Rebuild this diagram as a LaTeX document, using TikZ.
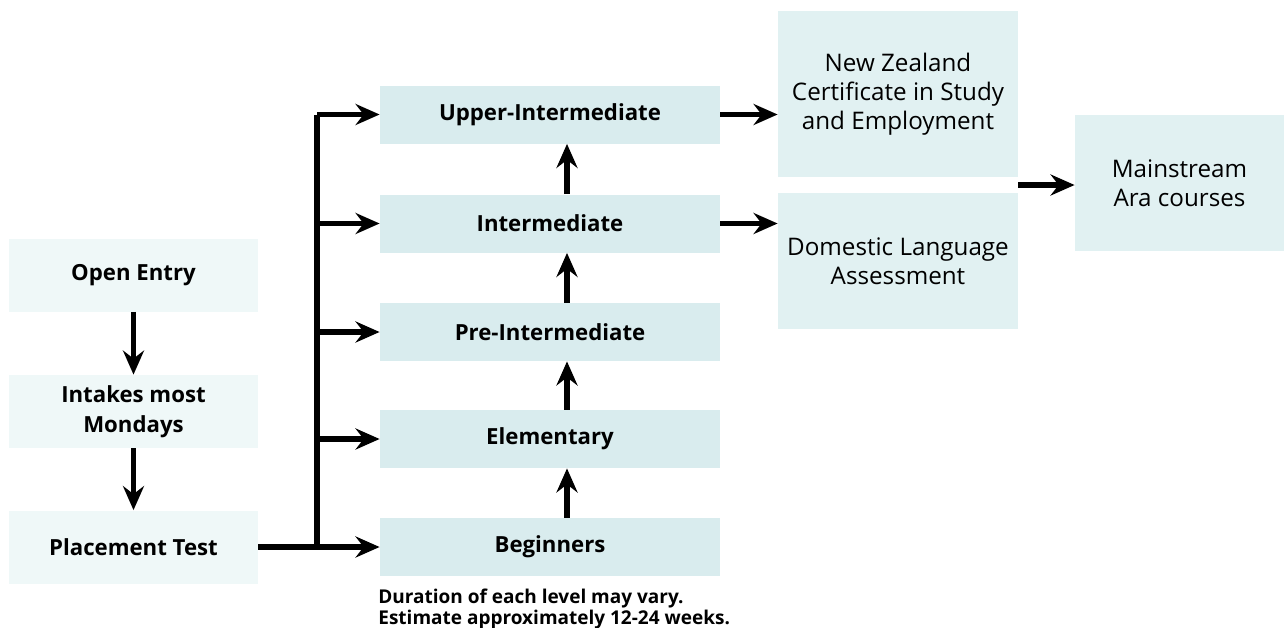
\documentclass[tikz,border=0pt]{standalone}
\usepackage{fontspec}
\setmainfont{Open Sans}
\usetikzlibrary{arrows.meta,calc}

\definecolor{entryfill}{HTML}{EFF8F8}
\definecolor{levelfill}{HTML}{D9ECEE}
\definecolor{exitfill}{HTML}{E1F1F2}

\tikzset{
  box/.style={inner sep=2pt, align=center, font=\fontsize{11.1}{15}\selectfont\bfseries},
  entrybox/.style={box, fill=entryfill, minimum width=124.5pt, minimum height=36.5pt},
  levelbox/.style={box, fill=levelfill, minimum width=170pt, minimum height=29pt},
  exitbox/.style={box, fill=exitfill, font=\fontsize{12.1}{14.5}\selectfont, minimum width=120pt},
  arr/.style={-{Stealth[length=12pt, width=10.5pt, inset=4pt]}, line width=2.6pt},
}

\begin{document}
\begin{tikzpicture}[x=0.5pt, y=-0.5pt]
\useasboundingbox (0,0) rectangle (1284,627);

% --- entry column ---
\node[entrybox] (open)   at (133.5,275)   {Open Entry};
\node[entrybox] (intake) at (133.5,411.5) {Intakes most\\Mondays};
\node[entrybox] (place)  at (133.5,547)   {Placement Test};

% --- levels ---
\node[levelbox] (upper) at (550,114.5) {Upper-Intermediate};
\node[levelbox] (inter) at (550,223.5) {Intermediate};
\node[levelbox] (pre)   at (550,332)   {Pre-Intermediate};
\node[levelbox] (elem)  at (550,439)   {Elementary};
\node[levelbox] (begin) at (550,547)   {Beginners};
\node[anchor=north west, align=left, inner sep=0pt, font=\fontsize{9.5}{8.8}\selectfont\bfseries]
  (note) at (378,589) {Duration of each level may vary.\\Estimate approximately 12-24 weeks.};

% --- exits ---
\node[exitbox, minimum height=83pt] (nz)  at (898,94)  {New Zealand\\Certificate in Study\\and Employment};
\node[exitbox, minimum height=68pt] (dom) at (898,261) {Domestic Language\\Assessment};
\node[exitbox, minimum width=104.5pt, minimum height=68pt] (main) at (1179.5,183) {Mainstream\\Ara courses};

% --- arrows ---
\draw[arr] (open) -- (intake);
\draw[arr] (intake) -- (place);
\coordinate (bus) at (317,0);
\draw[arr] (place.east) -- (begin.west);
\draw[line width=2.6pt] (bus |- begin.west) -- (bus |- upper.west);
\foreach \lvl in {upper,inter,pre,elem} {
  \draw[arr] (bus |- \lvl.west) -- (\lvl.west);
}
\foreach \lo/\hi in {begin/elem,elem/pre,pre/inter,inter/upper} {
  \draw[arr] ([xshift=8.5pt]\lo.north) -- ([xshift=8.5pt]\hi.south);
}
\draw[arr] (upper.east) -- (upper.east -| nz.west);
\draw[arr] (inter.east) -- (inter.east -| dom.west);
\coordinate (gap) at ($(nz.south east)!0.5!(dom.north east)$);
\draw[arr] (gap) -- (gap -| main.west);
\end{tikzpicture}
\end{document}
